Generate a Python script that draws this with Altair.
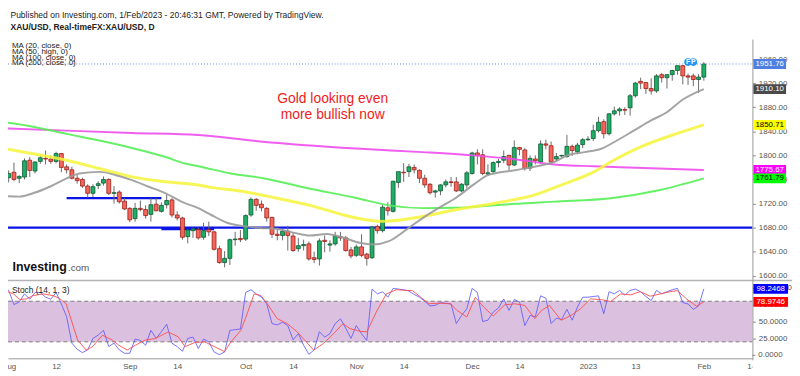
import altair as alt
import pandas as pd

# ---------------- data ----------------
days = list(range(-1, 133))
opens = [1756, 1763, 1772, 1762, 1764, 1792, 1774, 1790, 1795, 1794, 1790, 1803, 1781, 1776, 1762, 1760,
         1749, 1737, 1750, 1754, 1760, 1737, 1739, 1724, 1712, 1695, 1712, 1710, 1702, 1719, 1707, 1718,
         1726, 1701, 1696, 1665, 1675, 1677, 1664, 1677, 1673, 1645, 1622, 1629, 1660, 1662, 1661, 1701,
         1727, 1719, 1712, 1697, 1669, 1667, 1674, 1666, 1645, 1650, 1653, 1630, 1628, 1659, 1651, 1653,
         1665, 1663, 1643, 1634, 1648, 1636, 1630, 1682, 1675, 1713, 1707, 1755, 1772, 1773, 1780, 1775,
         1762, 1752, 1739, 1741, 1751, 1756, 1756, 1741, 1751, 1770, 1804, 1801, 1769, 1773, 1788, 1792,
         1800, 1784, 1813, 1809, 1779, 1794, 1789, 1819, 1816, 1794, 1799, 1798, 1815, 1806, 1818, 1826,
         1828, 1841, 1856, 1836, 1869, 1874, 1876, 1879, 1899, 1923, 1921, 1911, 1907, 1934, 1929, 1934,
         1941, 1949, 1932, 1932, 1926, 1930]
highs = [1768, 1775, 1788, 1767, 1795, 1797, 1790, 1800, 1808, 1800, 1806, 1804, 1785, 1781, 1768, 1763,
         1752, 1752, 1757, 1765, 1762, 1749, 1742, 1729, 1714, 1721, 1725, 1717, 1729, 1729, 1722, 1735,
         1729, 1707, 1698, 1678, 1680, 1680, 1688, 1690, 1675, 1650, 1641, 1662, 1673, 1676, 1702, 1730,
         1729, 1725, 1714, 1698, 1682, 1677, 1683, 1672, 1663, 1660, 1657, 1640, 1662, 1667, 1659, 1673,
         1673, 1666, 1648, 1652, 1669, 1638, 1683, 1685, 1718, 1722, 1758, 1772, 1787, 1786, 1785, 1777,
         1768, 1754, 1743, 1752, 1760, 1764, 1764, 1754, 1774, 1806, 1810, 1810, 1785, 1790, 1794, 1808,
         1801, 1825, 1814, 1812, 1800, 1800, 1825, 1826, 1823, 1804, 1801, 1834, 1818, 1821, 1829, 1832,
         1851, 1864, 1860, 1870, 1881, 1880, 1880, 1902, 1922, 1929, 1922, 1928, 1935, 1937, 1935, 1942,
         1949, 1950, 1936, 1936, 1935, 1955]
lows = [1754, 1755, 1757, 1754, 1760, 1764, 1770, 1786, 1785, 1786, 1787, 1772, 1770, 1760, 1753, 1746,
        1730, 1731, 1744, 1750, 1734, 1720, 1720, 1709, 1689, 1690, 1707, 1695, 1690, 1707, 1705, 1712,
        1697, 1692, 1660, 1654, 1663, 1660, 1660, 1666, 1642, 1620, 1614, 1618, 1650, 1656, 1658, 1698,
        1708, 1707, 1690, 1663, 1659, 1659, 1642, 1640, 1640, 1642, 1625, 1621, 1617, 1639, 1640, 1650,
        1658, 1640, 1629, 1631, 1631, 1617, 1628, 1670, 1672, 1700, 1705, 1746, 1756, 1764, 1770, 1754,
        1746, 1735, 1730, 1734, 1747, 1748, 1739, 1739, 1745, 1768, 1785, 1767, 1766, 1770, 1780, 1787,
        1775, 1782, 1800, 1775, 1774, 1785, 1786, 1810, 1785, 1789, 1797, 1796, 1799, 1802, 1812, 1824,
        1824, 1838, 1828, 1833, 1866, 1866, 1867, 1866, 1896, 1910, 1902, 1901, 1904, 1921, 1911, 1924,
        1934, 1918, 1917, 1915, 1904, 1924]
closes = [1766, 1770, 1760, 1765, 1791, 1775, 1789, 1796, 1794, 1790, 1803, 1780, 1776, 1762, 1758, 1749,
          1737, 1748, 1753, 1760, 1737, 1738, 1723, 1711, 1693, 1712, 1710, 1700, 1718, 1708, 1717, 1725,
          1701, 1696, 1664, 1676, 1678, 1663, 1675, 1673, 1644, 1622, 1629, 1660, 1661, 1660, 1700, 1727,
          1717, 1713, 1696, 1669, 1667, 1674, 1667, 1642, 1650, 1652, 1628, 1627, 1658, 1657, 1653, 1666,
          1663, 1642, 1633, 1648, 1634, 1629, 1681, 1675, 1714, 1708, 1757, 1773, 1771, 1781, 1776, 1762,
          1751, 1738, 1741, 1751, 1756, 1755, 1741, 1752, 1771, 1804, 1800, 1770, 1771, 1788, 1790, 1798,
          1784, 1813, 1810, 1778, 1795, 1791, 1819, 1817, 1789, 1798, 1800, 1815, 1808, 1817, 1826, 1827,
          1841, 1855, 1836, 1869, 1874, 1877, 1875, 1899, 1920, 1920, 1911, 1907, 1932, 1929, 1934, 1941,
          1949, 1932, 1930, 1926, 1930, 1951.76]

ma20_days = [-0.7, 2.1, 4.6, 7.8, 11, 13.4, 17.2, 20.4, 23.4, 26.6, 29.8, 32.8, 36, 38.4, 41.6, 44.8, 47.8,
             51, 54.2, 57.2, 60.4, 63.6, 66.6, 69.2, 72.2, 75.9, 78.6, 81.6, 84.8, 88.6, 91, 96.1, 101.2,
             103.6, 106.1, 109.3, 112.5, 115.5, 118.7, 121.9, 124.9, 128.1, 132]
ma20_vals = [1732.6, 1731.5, 1737, 1747.9, 1761.7, 1769.9, 1772.6, 1767.1, 1758.9, 1747.9, 1737, 1723.2,
             1712.4, 1701.4, 1687.7, 1682.1, 1679.5, 1677.9, 1671.3, 1666.8, 1669.6, 1663.1, 1654.8, 1652,
             1657.5, 1679.2, 1695.9, 1712.4, 1728.8, 1753.5, 1767.1, 1775.4, 1783.6, 1789, 1800, 1805.4,
             1811, 1824.7, 1841.1, 1857.6, 1871.2, 1893.2, 1910.10]
ma50_days = [-0.7, 4.6, 11, 17.2, 23.4, 29.8, 36, 38.4, 44.8, 51, 57.2, 63.6, 66, 71.1, 78.6, 84.8, 92.3,
             99.9, 104.9, 111.1, 114.3, 119.9, 126.7, 132]
ma50_vals = [1811, 1802.8, 1791.8, 1778.1, 1764.3, 1756.1, 1750.7, 1746.9, 1739.7, 1728.8, 1717, 1701,
             1696, 1690.4, 1698.6, 1709.6, 1720.6, 1734.3, 1750.7, 1772.6, 1789, 1813.7, 1835.7, 1850.71]
ma100_days = [-0.7, 4.6, 11, 17.2, 23.4, 29.8, 33.5, 36, 42.2, 48.6, 56.6, 66, 72.2, 78.6, 84.8, 91, 96.1,
              103.6, 114.3, 123.7, 132]
ma100_vals = [1854.8, 1847.7, 1835.7, 1824.7, 1812.3, 1797.2, 1786.4, 1782, 1770, 1761.7, 1745.8, 1729.3,
              1717, 1712.4, 1713, 1716.2, 1719.5, 1723.2, 1728.8, 1742.5, 1761.79]
ma200_days = [-0.7, 11, 23.4, 36, 47.3, 66, 78.6, 88, 96.1, 103.6, 111.1, 120.6, 132]
ma200_vals = [1844.9, 1841.1, 1837.3, 1834, 1823.5, 1811.3, 1805.4, 1800, 1793.4, 1785, 1781.9, 1779.1,
              1775.67]

stoch_k = [98, 96, 75, 79, 91, 83, 93, 93, 86, 83, 93, 76, 57, 18, 9, 4, 8, 25, 30, 37, 13, 18, 8, 3, 3,
           24, 22, 15, 37, 25, 35, 46, 18, 13, 6, 25, 27, 10, 24, 20, 5, 1, 5, 37, 38, 39, 93, 97, 91, 86,
           76, 47, 45, 49, 44, 23, 32, 15, 1.5, 8, 35, 27, 32, 47, 54, 40, 25, 44, 32, 22, 98, 91, 94, 86,
           99, 98, 97, 95, 90, 86, 80, 73, 74, 78, 77, 76, 47, 59, 69, 99, 93, 50, 52, 64, 70, 83.5, 66.5,
           82.5, 79, 44, 59, 57, 88, 84.5, 47, 55, 53, 68, 52, 71.5, 86, 86, 87, 88, 61.5, 94, 91, 96, 89,
           96, 98, 94, 87, 81, 96, 91, 94, 97, 99, 78, 76, 68, 73, 98.2468]
stoch_d_days = [-0.7, 0.9, 2.1, 3.4, 4.6, 6.5, 8.4, 9.6, 10.9, 11.8, 13.1, 14.7, 15.9, 17.8, 19.7, 20.9,
                22.5, 24.1, 25.9, 27.8, 30.3, 32.2, 33.5, 35.3, 37.2, 39.1, 41, 42.2, 44.1, 45.4, 46.6,
                47.9, 49.1, 51, 52.9, 54.8, 57.9, 59.8, 61.7, 63.5, 64.8, 66.7, 68, 69.8, 71.7, 73.6,
                76.7, 79.8, 81.7, 83.9, 85.1, 87, 88.6, 90.2, 92, 94.2, 96.1, 98, 99.9, 101.2, 102.7,
                104.9, 106.8, 108.6, 110.5, 112.4, 114.3, 116.2, 118.1, 119.9, 121.8, 123.7, 125.6, 127,
                128.7, 130.6, 132]
stoch_d_vals = [95.6, 90.8, 82.5, 83.5, 88.4, 90.8, 88.4, 84.5, 76.2, 54.2, 22.5, 7.8, 12.7, 29.8, 22.5,
                15.1, 7.8, 15.1, 22.5, 24.9, 34.6, 27.3, 12.7, 19, 20, 12.7, 5.4, 20, 37.1, 64, 90.8, 88.4,
                76.2, 54.2, 46.9, 34.6, 7.8, 17.6, 32.2, 46.9, 39.5, 35.6, 34.6, 64, 90.8, 97, 95.6, 76.2,
                77.2, 76.2, 66.5, 56.7, 85.9, 71.3, 58.2, 74.7, 76.2, 73.8, 54.2, 66.5, 73.8, 51.8, 59.1,
                68.9, 83.5, 82.5, 79.6, 90.8, 89.4, 94.2, 87.4, 90.8, 94.2, 95.6, 83.5, 72.8, 78.9746]

# horizontal levels drawn on the price pane
hline_prices = [1680, 1729, 1677.5]
hline_start = [-0.132, 11, 29]
hline_end = [141.22, 29, 39]
last_price = [1951.76]

price_box_vals = [1951.76, 1910.10, 1850.71, 1775.67, 1761.79]
stoch_box_vals = [98.2468, 78.9746]
stoch_band = [20, 80]

event_days = [129, 130]
event_prices = [1955, 1955]
event_labels = ["F", "P"]

x_tick_days = [0, 9, 23, 32, 45, 54, 66, 75, 88, 97, 110, 119, 132, 141]
x_tick_labels = ["Aug", "12", "Sep", "14", "Oct", "14", "Nov", "14", "Dec", "14", "2023", "13", "Feb", "14"]
price_ticks = [1600, 1640, 1680, 1720, 1760, 1800, 1840, 1880, 1920, 1960]
stoch_ticks = [25, 50, 75, 100]
stoch_floor = [0]

# ---------------- styles ----------------
FONT = "Liberation Sans"
UP_FILL, UP_LINE = "#1fae66", "#0b5a31"
DN_FILL, DN_LINE = "#f4665c", "#9c1d15"
price_box_fill = ["#4f7fe3", "#4a4a4a", "#ffff00", "#ff00ff", "#00ff00"]
price_box_text = ["white", "white", "black", "white", "black"]
stoch_box_fill = ["#0000ff", "#ff0000"]

W, H = 752, 352
xs = alt.Scale(domain=[-0.132, 141.222], nice=False, zero=False)
ps = alt.Scale(domain=[1590, 1960], range=[274.74, 49.68], nice=False, zero=False)
ss = alt.Scale(domain=[-2, 102], range=[350.37, 279.33], nice=False, zero=False)

candles = pd.DataFrame({"day": days, "open": opens, "high": highs, "low": lows, "close": closes})
candles["dir"] = ["up" if c >= o else "down" for o, c in zip(opens, closes)]
candles["top"] = [max(o, c) for o, c in zip(opens, closes)]
candles["bot"] = [min(o, c) for o, c in zip(opens, closes)]

label_expr = ("[" + ",".join(f"'{t}'" for t in x_tick_labels) + "][indexof(["
              + ",".join(str(d) for d in x_tick_days) + "], datum.value)]")

x_axis = alt.Axis(values=x_tick_days, labelExpr=label_expr, orient="bottom", domain=True,
                  domainColor="#9a9a9a", domainWidth=1, ticks=False, labelPadding=4, labelFontSize=8,
                  labelColor="#555555", labelFont=FONT, grid=False, title=None, labelFlush=False,
                  labelOverlap=False)
p_axis = alt.Axis(orient="right", values=price_ticks, format=".2f", domain=False, tickSize=3,
                  tickColor="#888888", labelPadding=3, labelFontSize=8, labelColor="#555555",
                  labelFont=FONT, title=None, grid=False, labelFlush=False, labelOverlap=False)
s_axis = alt.Axis(orient="right", values=stoch_ticks, format=".4f", domain=False, tickSize=3,
                  tickColor="#888888", labelPadding=3, labelFontSize=8, labelColor="#555555",
                  labelFont=FONT, title=None, grid=False, labelFlush=False, labelOverlap=False)


def X(field):
    return alt.X(field, scale=xs, axis=x_axis)


dir_fill = alt.Color("dir:N", scale=alt.Scale(domain=["up", "down"], range=[UP_FILL, DN_FILL]), legend=None)
dir_line = alt.Stroke("dir:N", scale=alt.Scale(domain=["up", "down"], range=[UP_LINE, DN_LINE]), legend=None)

base = alt.Chart(candles)

# stochastic pane
band_df = pd.DataFrame({"lo": [stoch_band[0]], "hi": [stoch_band[1]]})
band = alt.Chart(band_df).mark_rect(color="#dcc0df").encode(
    x=alt.value(0), x2=alt.value(W), y=alt.Y("lo:Q", scale=ss, axis=None), y2="hi:Q")
band_lines = alt.Chart(pd.DataFrame({"v": stoch_band})).mark_rule(
    color="#7a7a7a", strokeDash=[4, 3], strokeWidth=1).encode(
    x=alt.value(0), x2=alt.value(W), y=alt.Y("v:Q", scale=ss, axis=None))
k_df = pd.DataFrame({"day": days, "k": stoch_k})
k_line = alt.Chart(k_df).mark_line(color="#5c5cff", strokeWidth=1, opacity=0.85).encode(
    x=X("day:Q"), y=alt.Y("k:Q", scale=ss, axis=s_axis))
d_df = pd.DataFrame({"day": stoch_d_days, "d": stoch_d_vals})
d_line = alt.Chart(d_df).mark_line(color="#ff4d4d", strokeWidth=1, opacity=0.9).encode(
    x=X("day:Q"), y=alt.Y("d:Q", scale=ss, axis=None))
floor_df = pd.DataFrame({"v": stoch_floor})
floor_tick = alt.Chart(floor_df).mark_rule(color="#888888", strokeWidth=1).encode(
    x=alt.value(752), x2=alt.value(755), y=alt.Y("v:Q", scale=ss, axis=None))
floor_label = alt.Chart(floor_df).mark_text(fontSize=8, font=FONT, color="#555555", align="left",
                                            baseline="middle").encode(
    x=alt.value(758), y=alt.Y("v:Q", scale=ss, axis=None), text=alt.Text("v:Q", format=".4f"))

# horizontal price levels
hl_df = pd.DataFrame({"p": hline_prices, "a": hline_start, "b": hline_end})
hlines = alt.Chart(hl_df).mark_rule(color="#0a14e6", strokeWidth=2.5).encode(
    x=X("a:Q"), x2="b:Q", y=alt.Y("p:Q", scale=ps, axis=None))
last_line = alt.Chart(pd.DataFrame({"p": last_price})).mark_rule(
    color="#6a8fe0", strokeDash=[1, 2], strokeWidth=1).encode(
    x=alt.value(0), x2=alt.value(W), y=alt.Y("p:Q", scale=ps, axis=None))

# candles
wicks = base.mark_rule(strokeWidth=1, color="#6a6a6a").encode(
    x=X("day:Q"), y=alt.Y("low:Q", scale=ps, axis=p_axis), y2="high:Q")
bodies = base.transform_calculate(x0="datum.day - 0.37", x1="datum.day + 0.37").mark_rect(
    strokeWidth=0.8).encode(
    x=X("x0:Q"), x2="x1:Q",
    y=alt.Y("bot:Q", scale=ps, axis=None), y2="top:Q", color=dir_fill, stroke=dir_line)


def ma_layer(dd, vv, color, width, op):
    df = pd.DataFrame({"day": dd, "v": vv})
    return alt.Chart(df).mark_line(color=color, strokeWidth=width, opacity=op, interpolate="monotone").encode(
        x=X("day:Q"), y=alt.Y("v:Q", scale=ps, axis=None))


ma200 = ma_layer(ma200_days, ma200_vals, "#ee4cee", 2, 0.9)
ma100 = ma_layer(ma100_days, ma100_vals, "#55ee55", 2, 0.9)
ma50 = ma_layer(ma50_days, ma50_vals, "#f5f53a", 3, 0.85)
ma20 = ma_layer(ma20_days, ma20_vals, "#9a9a9a", 2, 0.9)

# event markers
ev_df = pd.DataFrame({"day": event_days, "p": event_prices, "t": event_labels})
ev_dots = alt.Chart(ev_df).mark_circle(size=60, color="#2196f3", opacity=1).encode(
    x=X("day:Q"), y=alt.Y("p:Q", scale=ps, axis=None))
ev_text = alt.Chart(ev_df).mark_text(color="white", fontSize=7, fontWeight="bold", font=FONT).encode(
    x=X("day:Q"), y=alt.Y("p:Q", scale=ps, axis=None), text="t:N")

# right-axis value boxes
pb_df = pd.DataFrame({"v": price_box_vals, "fill": price_box_fill, "tc": price_box_text})
pboxes = alt.Chart(pb_df).transform_calculate(a="datum.v + 8.2", b="datum.v - 8.2").mark_rect().encode(
    x=alt.value(753), x2=alt.value(786), y=alt.Y("a:Q", scale=ps, axis=None), y2="b:Q",
    color=alt.Color("fill:N", scale=None))
ptext = alt.Chart(pb_df).mark_text(fontSize=8, font=FONT, align="center").encode(
    x=alt.value(769.5), y=alt.Y("v:Q", scale=ps, axis=None), text=alt.Text("v:Q", format=".2f"),
    color=alt.Color("tc:N", scale=None))
sb_df = pd.DataFrame({"v": stoch_box_vals, "fill": stoch_box_fill})
sboxes = alt.Chart(sb_df).transform_calculate(a="datum.v + 7.3", b="datum.v - 7.3").mark_rect().encode(
    x=alt.value(753), x2=alt.value(788), y=alt.Y("a:Q", scale=ss, axis=None), y2="b:Q",
    color=alt.Color("fill:N", scale=None))
stext = alt.Chart(sb_df).mark_text(fontSize=8, font=FONT, color="white", align="center").encode(
    x=alt.value(770.5), y=alt.Y("v:Q", scale=ss, axis=None), text=alt.Text("v:Q", format=".4f"))

# frame pieces
one = pd.DataFrame({"z": [0]})
cover = alt.Chart(one).mark_rect(color="white").encode(
    x=alt.value(752), x2=alt.value(792), y=alt.value(355), y2=alt.value(368))
vaxis = alt.Chart(one).mark_rule(color="#9a9a9a", strokeWidth=1).encode(
    x=alt.value(752.5), y=alt.value(30), y2=alt.value(354))
sep = alt.Chart(one).mark_rule(color="#b4b4b4", strokeWidth=1.5).encode(
    x=alt.value(0), x2=alt.value(792), y=alt.value(273.5))


def txt(s, x, y, size, color="#222222", weight="normal", align="left", baseline="middle"):
    return alt.Chart(one).mark_text(text=s, fontSize=size, color=color, fontWeight=weight, font=FONT,
                                    align=align, baseline=baseline).encode(x=alt.value(x), y=alt.value(y))


texts = [
    txt("Published on Investing.com, 1/Feb/2023 - 20:46:31 GMT, Powered by TradingView.", 2.5, 5, 8.6),
    txt("XAU/USD, Real-timeFX:XAU/USD, D", 2.5, 17, 8.6, weight="bold"),
    txt("MA (20, close, 0)", 4, 37, 8),
    txt("MA (50, high, 0)", 4, 42.7, 8),
    txt("MA (100, close, 0)", 4, 48.3, 8),
    txt("MA (200, close, 0)", 4, 54, 8),
    txt("Gold looking even", 328, 90, 14, color="#ee1c1c", align="center"),
    txt("more bullish now", 328, 106, 14, color="#ee1c1c", align="center"),
    txt("Investing", 4.5, 264, 12.5, color="#111111", weight="bold", baseline="alphabetic"),
    txt(".com", 60.5, 264, 10, color="#555555", baseline="alphabetic"),
    txt("Stoch (14, 1, 3)", 4, 283, 8.5),
]

chart = alt.layer(
    band, band_lines, k_line, d_line,
    hlines, wicks, bodies, ma200, ma100, ma50, ma20, last_line,
    ev_dots, ev_text, sep, cover, vaxis, floor_tick, floor_label, pboxes, ptext, sboxes, stext, *texts
).resolve_scale(y="independent").resolve_axis(y="independent").properties(
    width=W, height=H, padding={"left": 0, "top": 0, "right": 40, "bottom": 16},
    autosize=alt.AutoSizeParams(type="none"), background="white"
).configure_view(stroke=None)

chart.save("out.html", embed_options={"renderer": "svg", "actions": False})
